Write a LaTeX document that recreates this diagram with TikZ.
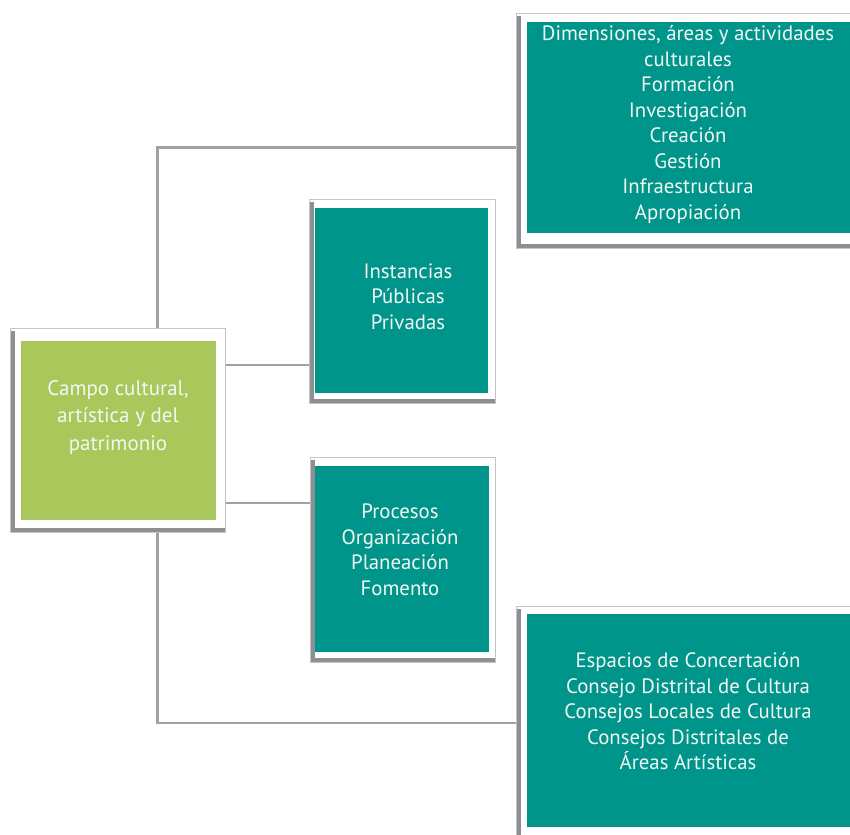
\documentclass[tikz,border=0pt]{standalone}
\usepackage{fontspec}
\setmainfont{PT Sans}
\usetikzlibrary{backgrounds}
\definecolor{boxteal}{HTML}{00958A}
\definecolor{boxgreen}{HTML}{A9C75B}
\definecolor{textwhite}{HTML}{F2F7F4}
\definecolor{linkgrey}{HTML}{A2A2A6}
\definecolor{framegrey}{HTML}{C4C4C8}
\definecolor{shadegrey}{HTML}{8E8E93}
\begin{document}
\begin{tikzpicture}[x=1pt,y=-1pt,
  fillbox/.style={rectangle, inner sep=0pt, draw=none},
  boxtext/.style={align=center, text=textwhite, inner sep=0pt,
    font=\fontsize{20.8}{25.5}\selectfont},
  link/.style={draw=linkgrey, line width=2.2pt},
  framebox/.style={draw=framegrey, line width=1.2pt, fill=white},
  frameshade/.style={draw=shadegrey, line width=4pt}]
\useasboundingbox (0,0) rectangle (850,834);

% coloured panels
\node[fillbox, fill=boxgreen, minimum width=195pt, minimum height=179pt] (campo) at (118.5,430.5) {};
\node[fillbox, fill=boxteal, minimum width=173pt, minimum height=185pt] (inst) at (401.5,300.5) {};
\node[fillbox, fill=boxteal, minimum width=174pt, minimum height=186pt] (proc) at (402,559) {};
\node[fillbox, fill=boxteal, minimum width=323pt, minimum height=211pt] (dim) at (688.5,127.5) {};
\node[fillbox, fill=boxteal, minimum width=323pt, minimum height=213pt] (esp) at (688.5,720.5) {};

% panel texts
\node[boxtext, font=\fontsize{21}{27.5}\selectfont] (campo-t) at (118,417.5)
  {Campo cultural,\\artística y del\\patrimonio};
\node[boxtext] (inst-t) at (408,296.5) {Instancias\\Públicas\\Privadas};
\node[boxtext] (proc-t) at (400,550) {Procesos\\Organización\\Planeación\\Fomento};
\node[boxtext] (dim-t) at (688,124.5)
  {Dimensiones, áreas y actividades\\culturales\\Formación\\Investigación\\Creación\\Gestión\\Infraestructura\\Apropiación};
\node[boxtext] (esp-t) at (688,711.5)
  {Espacios de Concertación\\Consejo Distrital de Cultura\\Consejos Locales de Cultura\\Consejos Distritales de\\Áreas Artísticas};

\begin{scope}[on background layer]
  % connectors
  \coordinate (jt) at (157.5,147.5);
  \coordinate (jb) at (157.5,723);
  \draw[link] (jt -| dim.west) -- (jt) -- (jb) -- (jb -| esp.west);
  \path ([yshift=65.5pt]campo.east) coordinate (ci)
        ([yshift=-72.5pt]campo.east) coordinate (cp);
  \draw[link] (ci) -- (ci -| inst.west);
  \draw[link] (cp) -- (cp -| proc.west);

  % white frames with grey shade on the left and bottom
  \draw[framebox] ([shift={(-10,-12)}]campo.north west) rectangle ([shift={(9,12)}]campo.south east);
  \draw[frameshade] ([shift={(-8,-10)}]campo.north west) -- ([shift={(-8,10)}]campo.south west) -- ([shift={(9,10)}]campo.south east);

  \draw[framebox] ([shift={(-5,-8)}]inst.north west) rectangle ([shift={(7,10)}]inst.south east);
  \draw[frameshade] ([shift={(-3,-6)}]inst.north west) -- ([shift={(-3,8)}]inst.south west) -- ([shift={(7,8)}]inst.south east);

  \draw[framebox] ([shift={(-4,-8)}]proc.north west) rectangle ([shift={(6,10)}]proc.south east);
  \draw[frameshade] ([shift={(-2,-6)}]proc.north west) -- ([shift={(-2,8)}]proc.south west) -- ([shift={(6,8)}]proc.south east);

  \draw[framebox] ([shift={(-10,-8)}]dim.north west) rectangle ([shift={(10,15)}]dim.south east);
  \draw[frameshade] ([shift={(-8,-6)}]dim.north west) -- ([shift={(-8,13)}]dim.south west) -- ([shift={(10,13)}]dim.south east);

  \draw[framebox] ([shift={(-10,-7)}]esp.north west) rectangle ([shift={(10,20)}]esp.south east);
  \draw[frameshade] ([shift={(-8,-5)}]esp.north west) -- ([shift={(-8,20)}]esp.south west);
\end{scope}
\end{tikzpicture}
\end{document}
